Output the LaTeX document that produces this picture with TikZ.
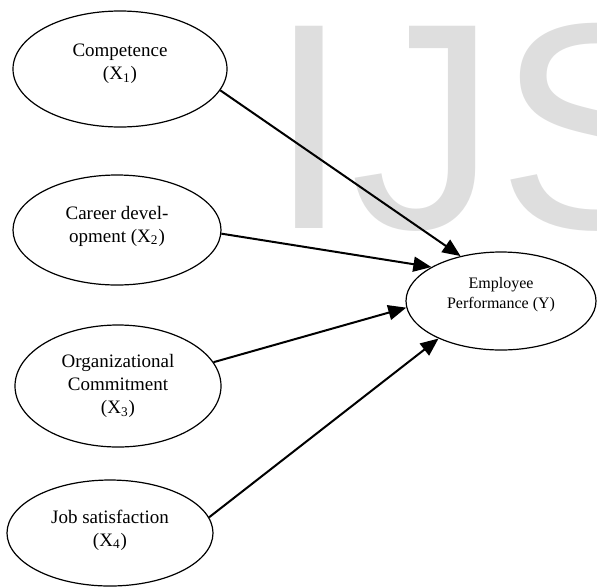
\documentclass[tikz,border=0pt]{standalone}
\usepackage{fontspec}
\setmainfont{Liberation Serif}
\newfontfamily\wmfont{Liberation Sans}
\usetikzlibrary{arrows.meta,shapes.geometric}
\definecolor{wmgray}{HTML}{DEDEDE}

\begin{document}
\begin{tikzpicture}[x=0.5pt, y=0.5pt,
   construct/.style={draw, ellipse, line width=0.6pt, inner sep=0pt, align=center, font=\fontsize{9.5}{11.5}\selectfont},
   path/.style={-{Triangle[length=9pt,width=7.5pt]}, line width=1pt}]
   \useasboundingbox (0,0) rectangle (597,586);
   \node[anchor=base west, inner sep=0pt, text=wmgray, text height=105pt, text depth=0pt, font=\wmfont\fontsize{147}{147}\selectfont] (wm) at (268,358) {IJS};
   \node[construct, minimum width=107pt, minimum height=58pt, text depth=7pt] (comp) at (120,517) {Competence\\(X\textsubscript{1})};
   \node[construct, minimum width=104pt, minimum height=55pt, text depth=6pt] (career) at (117,356) {Career devel-\\opment (X\textsubscript{2})};
   \node[construct, minimum width=103pt, minimum height=61pt] (org) at (118,200) {Organizational\\Commitment\\(X\textsubscript{3})};
   \node[construct, minimum width=103pt, minimum height=53pt, text depth=5pt] (job) at (110,53) {Job satisfaction\\(X\textsubscript{4})};
   \node[construct, minimum width=95pt, minimum height=49pt, text depth=8pt, font=\fontsize{8}{10}\selectfont] (perf) at (501,285) {Employee\\Performance (Y)};
   \draw[path] (comp.-12) -- (perf.132);
   \draw[path] (career.-2) -- (perf.154);
   \draw[path] (org.14) -- (perf.184);
   \draw[path] (job.9) -- (perf.211);
\end{tikzpicture}
\end{document}
